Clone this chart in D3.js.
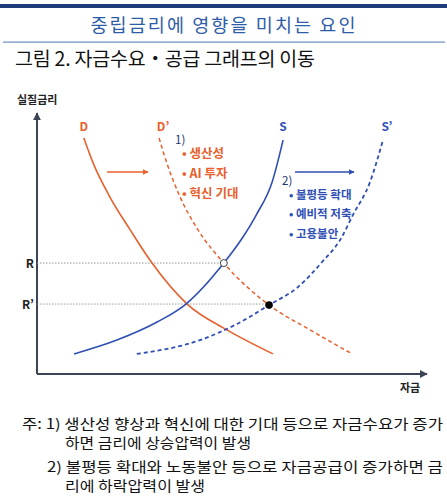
<!DOCTYPE html>
<html>
<head>
<meta charset="utf-8">
<script src="https://cdn.jsdelivr.net/npm/d3@7"></script>
<style>
body { margin: 0; background: #fff; }
text { font-family: "Noto Sans CJK KR", "Noto Sans", sans-serif; }
</style>
</head>
<body>
<div id="chart"></div>
<script>
// curve points, x = 자금 (0-100), y = 실질금리 (0-100)
var demand      = [[12,90.4],[14.4,80.8],[18.7,67.8],[23.9,55.2],[29.5,42.5],[38.5,26.8],[48.7,16.9],[60.5,7.7]];
var demandShift = [[31.3,90.4],[33.3,80.8],[36.7,67.8],[41.3,55.2],[47.9,42.5],[59.5,26.4],[70,16.9],[80.8,7.7]];
var supply      = [[9.5,7.7],[20.5,13],[30.8,19.9],[38.2,26.8],[47.9,42.5],[52.6,52],[56.2,60.9],[60.3,73.6],[63.1,89.6]];
var supplyShift = [[25.6,7.7],[41.8,13],[50.8,18.8],[59.5,26.4],[66.9,33.3],[73.1,42.9],[77.7,51.3],[81,60.9],[85.4,73.6],[88.7,89.6]];
var rateR = 42.5, rateR2 = 26.8;
var eqOld = [47.9, 42.5], eqNew = [59.5, 26.4];
var demandFactors = ["생산성", "AI 투자", "혁신 기대"];
var supplyFactors = ["불평등 확대", "예비적 저축", "고용불안"];
var notes = [
	"주: 1) 생산성 향상과 혁신에 대한 기대 등으로 자금수요가 증가",
	"하면 금리에 상승압력이 발생",
	"2) 불평등 확대와 노동불안 등으로 자금공급이 증가하면 금",
	"리에 하락압력이 발생"
];

var orange = "#e8602c", blue = "#2f4fb5", navy = "#22356e", axisCol = "#3d4456";

var svg = d3.select("#chart").append("svg")
	.attr("width", 447)
	.attr("height", 500);

var defs = svg.append("defs");
function marker(id, col) {
	defs.append("marker")
		.attr("id", id)
		.attr("viewBox", "0 0 10 10")
		.attr("refX", 9).attr("refY", 5)
		.attr("markerWidth", 4).attr("markerHeight", 4)
		.attr("orient", "auto")
		.append("path")
		.attr("d", "M0,0 L10,5 L0,10 Z")
		.attr("fill", col);
}
marker("ar-axis", axisCol);
marker("ar-orange", orange);
marker("ar-blue", blue);

// header
svg.append("rect").attr("x", 0).attr("y", 4).attr("width", 447).attr("height", 4).attr("fill", "#1f3d7a");
svg.append("text")
	.attr("x", 223).attr("y", 32)
	.attr("text-anchor", "middle")
	.attr("font-size", 18.5)
	.attr("fill", "#2f5ca8")
	.attr("textLength", 265)
	.text("중립금리에 영향을 미치는 요인");
svg.append("rect").attr("x", 3).attr("y", 41.5).attr("width", 442).attr("height", 1.2).attr("fill", "#6b8cc4");
svg.append("text")
	.attr("x", 15).attr("y", 66)
	.attr("font-size", 19.5)
	.attr("fill", "#111")
	.attr("textLength", 300)
	.text("그림 2. 자금수요・공급 그래프의 이동");

var x = d3.scaleLinear().domain([0, 100]).range([37, 427]);
var y = d3.scaleLinear().domain([0, 100]).range([374, 113]);

var g = svg.append("g");

// axes
g.append("line")
	.attr("x1", x(0)).attr("y1", y(0)).attr("x2", x(100)).attr("y2", y(0))
	.attr("stroke", axisCol).attr("stroke-width", 2)
	.attr("marker-end", "url(#ar-axis)");
g.append("line")
	.attr("x1", x(0)).attr("y1", y(0)).attr("x2", x(0)).attr("y2", y(100))
	.attr("stroke", axisCol).attr("stroke-width", 2)
	.attr("marker-end", "url(#ar-axis)");
g.append("text")
	.attr("x", 17).attr("y", 104)
	.attr("font-size", 11).attr("font-weight", "bold").attr("fill", "#222")
	.text("실질금리");
g.append("text")
	.attr("x", 410).attr("y", 392)
	.attr("text-anchor", "middle")
	.attr("font-size", 11).attr("font-weight", "bold").attr("fill", "#222")
	.text("자금");

// rate guide lines
[[rateR, eqOld, "R"], [rateR2, eqNew, "R\u2019"]].forEach(function (d) {
	g.append("line")
		.attr("x1", x(0)).attr("x2", x(d[1][0]))
		.attr("y1", y(d[0])).attr("y2", y(d[0]))
		.attr("stroke", "#999").attr("stroke-width", 1)
		.attr("stroke-dasharray", "1.5,1.5");
	g.append("text")
		.attr("x", 34).attr("y", y(d[0]) + 5)
		.attr("text-anchor", "end")
		.attr("font-size", 12).attr("font-weight", "bold").attr("fill", "#222")
		.text(d[2]);
});

var line = d3.line()
	.x(function (d) { return x(d[0]); })
	.y(function (d) { return y(d[1]); })
	.curve(d3.curveMonotoneX);

function curve(data, col, dashed, w) {
	g.append("path")
		.datum(data)
		.attr("d", line)
		.attr("fill", "none")
		.attr("stroke", col)
		.attr("stroke-width", w)
		.attr("stroke-dasharray", dashed ? "4,3" : null);
}
curve(demand, orange, false, 1.6);
curve(demandShift, orange, true, 1.5);
curve(supply, blue, false, 1.6);
curve(supplyShift, blue, true, 1.8);

// curve labels
[["D", demand[0], orange], ["D\u2019", demandShift[0], orange],
 ["S", supply[supply.length - 1], blue], ["S\u2019", supplyShift[supplyShift.length - 1], blue]]
	.forEach(function (d) {
		g.append("text")
			.attr("x", x(d[1][0]) + (d[0].length > 1 ? 4 : 0))
			.attr("y", 131)
			.attr("text-anchor", "middle")
			.attr("font-size", 12).attr("font-weight", "bold")
			.attr("fill", d[2])
			.text(d[0]);
	});

// equilibrium points
g.append("circle")
	.attr("cx", x(eqOld[0])).attr("cy", y(eqOld[1])).attr("r", 3.5)
	.attr("fill", "#fff").attr("stroke", "#444").attr("stroke-width", 1);
g.append("circle")
	.attr("cx", x(eqNew[0])).attr("cy", y(eqNew[1])).attr("r", 3.8)
	.attr("fill", "#000");

// shift arrows
g.append("line")
	.attr("x1", 107).attr("x2", 148).attr("y1", 172).attr("y2", 172)
	.attr("stroke", orange).attr("stroke-width", 1.5)
	.attr("marker-end", "url(#ar-orange)");
g.append("line")
	.attr("x1", 295).attr("x2", 354).attr("y1", 172).attr("y2", 172)
	.attr("stroke", blue).attr("stroke-width", 1.5)
	.attr("marker-end", "url(#ar-blue)");

// factor lists
g.append("text").attr("x", 175).attr("y", 144)
	.attr("font-size", 11.5).attr("fill", navy).text("1)");
g.selectAll(".dem").data(demandFactors).enter().append("text")
	.attr("x", 182).attr("y", function (d, i) { return 157.5 + i * 20; })
	.attr("font-size", 12.5).attr("font-weight", "bold").attr("fill", orange)
	.text(function (d) { return "• " + d; });

g.append("text").attr("x", 282).attr("y", 185)
	.attr("font-size", 11.5).attr("fill", navy).text("2)");
g.selectAll(".sup").data(supplyFactors).enter().append("text")
	.attr("x", 289).attr("y", function (d, i) { return 198.5 + i * 19.5; })
	.attr("font-size", 11.5).attr("font-weight", "bold").attr("fill", blue)
	.text(function (d) { return "• " + d; });

// footnotes
var noteX = [22, 65, 47, 65], noteY = [429, 448, 472, 491], noteW = [421, 186, 396, 140];
svg.selectAll(".note").data(notes).enter().append("text")
	.attr("x", function (d, i) { return noteX[i]; })
	.attr("y", function (d, i) { return noteY[i]; })
	.attr("font-size", 14)
	.attr("fill", "#111")
	.attr("textLength", function (d, i) { return noteW[i]; })
	.attr("lengthAdjust", "spacingAndGlyphs")
	.text(function (d) { return d; });
</script>
</body>
</html>
